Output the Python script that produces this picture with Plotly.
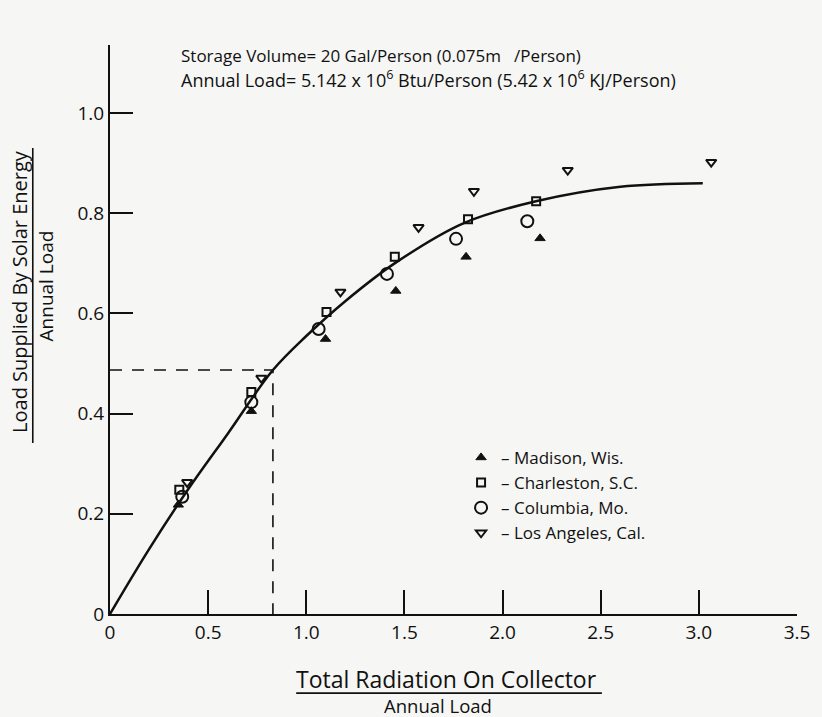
import plotly.graph_objects as go

# ---- data ----
madison_x = [0.348, 0.720, 1.098, 1.456, 1.814, 2.191]
madison_y = [0.218, 0.405, 0.549, 0.645, 0.713, 0.750]

charleston_x = [0.353, 0.720, 1.103, 1.451, 1.824, 2.171]
charleston_y = [0.248, 0.443, 0.603, 0.713, 0.788, 0.824]

columbia_x = [0.368, 0.720, 1.063, 1.411, 1.763, 2.126]
columbia_y = [0.234, 0.423, 0.569, 0.679, 0.749, 0.784]

la_x = [0.393, 0.771, 1.174, 1.572, 1.854, 2.332, 3.063]
la_y = [0.263, 0.471, 0.643, 0.772, 0.844, 0.886, 0.902]

curve_x = [0, 0.2, 0.4, 0.6, 0.83, 1.0, 1.2, 1.45, 1.8, 2.17, 2.6, 3.02]
curve_y = [0, 0.13, 0.25, 0.36, 0.487, 0.555, 0.625, 0.70, 0.78, 0.824, 0.853, 0.860]

read_x = 0.83
read_y = 0.487

x_ticks = [0, 0.5, 1.0, 1.5, 2.0, 2.5, 3.0, 3.5]
x_ticktext = ["0", "0.5", "1.0", "1.5", "2.0", "2.5", "3.0", "3.5"]
y_ticks = [0, 0.2, 0.4, 0.6, 0.8, 1.0]
y_ticktext = ["0", "0.2", "0.4", "0.6", "0.8", "1.0"]

FONT = "Open Sans"
INK = "#111111"
BG = "#f6f6f4"

fig = go.Figure()

# fitted curve
fig.add_trace(go.Scatter(x=curve_x, y=curve_y, mode="lines",
                         line=dict(color=INK, width=2.5, shape="spline", smoothing=1.0),
                         showlegend=False, hoverinfo="skip"))

# dashed read-off lines
fig.add_trace(go.Scatter(x=[0, read_x, read_x], y=[read_y, read_y, 0], mode="lines",
                         line=dict(color=INK, width=1.6, dash="12px,10px"),
                         showlegend=False, hoverinfo="skip"))

fig.add_trace(go.Scatter(x=madison_x, y=madison_y, mode="markers", name="– Madison, Wis.",
                         marker=dict(symbol="triangle-up", size=9, color=INK,
                                     line=dict(color=INK, width=1))))
fig.add_trace(go.Scatter(x=charleston_x, y=charleston_y, mode="markers", name="– Charleston, S.C.",
                         marker=dict(symbol="square-open", size=8, color=INK,
                                     line=dict(color=INK, width=2))))
fig.add_trace(go.Scatter(x=columbia_x, y=columbia_y, mode="markers", name="– Columbia, Mo.",
                         marker=dict(symbol="circle-open", size=12, color=INK,
                                     line=dict(color=INK, width=2))))
fig.add_trace(go.Scatter(x=la_x, y=la_y, mode="markers", name="– Los Angeles, Cal.",
                         marker=dict(symbol="triangle-down-open", size=9, color=INK,
                                     line=dict(color=INK, width=2))))

fig.update_xaxes(range=[0, 3.5], tickvals=x_ticks, ticktext=x_ticktext,
                 showline=True, linecolor=INK, linewidth=2,
                 ticks="inside", ticklen=24, tickwidth=1.5, tickcolor=INK,
                 showgrid=False, zeroline=False,
                 tickfont=dict(family=FONT, size=19, color=INK))
fig.update_yaxes(range=[0, 1.136], tickvals=y_ticks, ticktext=y_ticktext,
                 showline=True, linecolor=INK, linewidth=2,
                 ticks="inside", ticklen=23, tickwidth=1.5, tickcolor=INK,
                 showgrid=False, zeroline=False,
                 tickfont=dict(family=FONT, size=19, color=INK))

fig.add_annotation(text="Storage Volume= 20 Gal/Person (0.075m&nbsp;&nbsp;&nbsp;/Person)",
                   xref="paper", yref="paper", x=0.1009, y=0.9824,
                   xanchor="left", yanchor="middle", showarrow=False,
                   font=dict(family=FONT, size=17, color=INK))
fig.add_annotation(text="Annual Load= 5.142 x 10<sup>6</sup> Btu/Person (5.42 x 10<sup>6</sup> KJ/Person)",
                   xref="paper", yref="paper", x=0.1009, y=0.940,
                   xanchor="left", yanchor="middle", showarrow=False,
                   font=dict(family=FONT, size=18, color=INK))

# y-axis title as a fraction
fig.add_annotation(text="Load Supplied By Solar Energy", xref="paper", yref="paper",
                   x=-0.1310, y=0.566, textangle=-90, showarrow=False,
                   font=dict(family=FONT, size=20, color=INK),
                   xanchor="center", yanchor="middle")
fig.add_annotation(text="Annual Load", xref="paper", yref="paper",
                   x=-0.0925, y=0.5765, textangle=-90, showarrow=False,
                   font=dict(family=FONT, size=19, color=INK),
                   xanchor="center", yanchor="middle")
fig.add_shape(type="line", xref="paper", yref="paper", x0=-0.1124, x1=-0.1124,
              y0=0.3005, y1=0.819, line=dict(color=INK, width=1.6))

# x-axis title as a fraction
fig.add_annotation(text="Total Radiation On Collector", xref="paper", yref="paper",
                   x=0.490, y=-0.114, showarrow=False,
                   font=dict(family=FONT, size=23, color=INK),
                   xanchor="center", yanchor="middle")
fig.add_annotation(text="Annual Load", xref="paper", yref="paper",
                   x=0.477, y=-0.161, showarrow=False,
                   font=dict(family=FONT, size=18.5, color=INK),
                   xanchor="center", yanchor="middle")
fig.add_shape(type="line", xref="paper", yref="paper", x0=0.271, x1=0.716,
              y0=-0.139, y1=-0.139, line=dict(color=INK, width=1.6))

fig.update_layout(
    width=822, height=717,
    margin=dict(l=110, r=18, t=45, b=103),
    paper_bgcolor=BG, plot_bgcolor=BG,
    font=dict(family=FONT, color=INK),
    legend=dict(x=0.511, y=0.306, xanchor="left", yanchor="top",
                bgcolor="rgba(0,0,0,0)", itemwidth=30,
                font=dict(family=FONT, size=17, color=INK)),
)

fig.write_html("out.html", config={"displayModeBar": False},
               post_script="document.body.style.margin='0';document.body.style.background='%s';" % BG)
